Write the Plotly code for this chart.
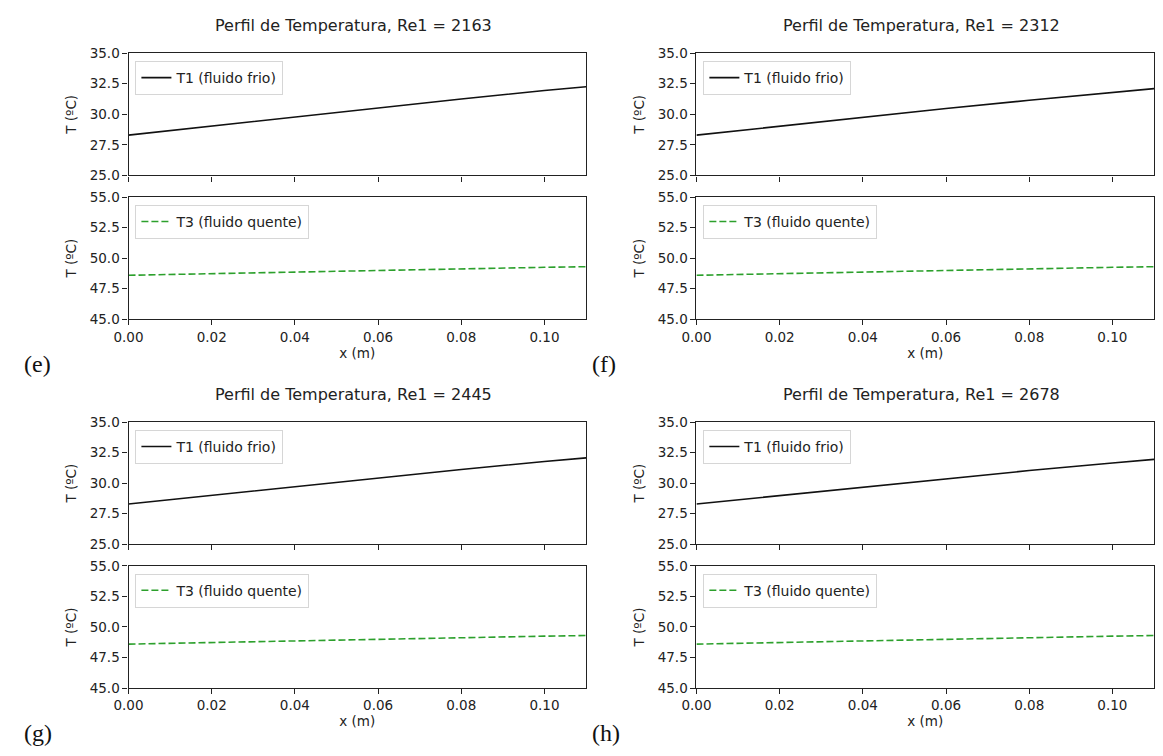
import plotly.graph_objects as go

# The page body has an 8px default margin, so the figure is made 16px smaller
# and all page-pixel positions are shifted by OFF.
PAGE_W, PAGE_H = 1163, 756
OFF = 8
W, H = PAGE_W - 2 * OFF, PAGE_H - 2 * OFF

x_pos = [0.0, 0.02, 0.04, 0.06, 0.08, 0.10, 0.11]
re_values = [2163, 2312, 2445, 2678]
panel_labels = ["(e)", "(f)", "(g)", "(h)"]
t1_e = [28.3, 29.05, 29.80, 30.55, 31.25, 31.95, 32.25]
t1_f = [28.3, 29.03, 29.75, 30.47, 31.15, 31.80, 32.10]
t1_g = [28.3, 29.02, 29.73, 30.43, 31.12, 31.77, 32.07]
t1_h = [28.3, 28.98, 29.68, 30.36, 31.03, 31.65, 31.95]
t3_e = [48.6, 48.74, 48.88, 49.01, 49.13, 49.25, 49.30]
t3_f = [48.6, 48.74, 48.88, 49.01, 49.13, 49.25, 49.30]
t3_g = [48.6, 48.74, 48.88, 49.01, 49.13, 49.25, 49.30]
t3_h = [48.6, 48.74, 48.88, 49.01, 49.13, 49.25, 49.30]
t1_series = [t1_e, t1_f, t1_g, t1_h]
t3_series = [t3_e, t3_f, t3_g, t3_h]
y1_ticks = [25.0, 27.5, 30.0, 32.5, 35.0]
y3_ticks = [45.0, 47.5, 50.0, 52.5, 55.0]
x_ticks = [0.00, 0.02, 0.04, 0.06, 0.08, 0.10]

# page-pixel layout
cols_px = [(115, 579), (691, 1155)]
rows_px = [((46, 171), (193, 318)), ((423, 548), (570, 695))]


def px_x(p):
    return (p - OFF) / W


def px_y(p):
    return 1 - (p - OFF) / H


fig = go.Figure()
font_main = "DejaVu Sans, Arial, sans-serif"
txt = "#222222"
FS = 13.5

axis_common = dict(
    showline=True, linecolor="#222222", linewidth=1.1, mirror=True,
    ticks="outside", ticklen=5, tickwidth=1.1, tickcolor="#222222",
    showgrid=False, zeroline=False,
    tickfont=dict(family=font_main, size=FS, color=txt),
)

ann = []
for i in range(4):
    r, c = divmod(i, 2)
    (x0, x1) = cols_px[c]
    (top, bottom) = rows_px[r]
    for j, (yp, series, name, color, dash, yt, rng) in enumerate([
        (top, t1_series[i], "T1 (fluido frio)", "#111111", "solid", y1_ticks, [25, 35]),
        (bottom, t3_series[i], "T3 (fluido quente)", "#2ca02c", "dash", y3_ticks, [45, 55]),
    ]):
        k = i * 2 + j + 1
        xa = "xaxis" if k == 1 else f"xaxis{k}"
        ya = "yaxis" if k == 1 else f"yaxis{k}"
        xr = "x" if k == 1 else f"x{k}"
        yr = "y" if k == 1 else f"y{k}"
        lg = "legend" if k == 1 else f"legend{k}"
        fig.add_trace(go.Scatter(
            x=x_pos, y=series, mode="lines", name=name,
            line=dict(color=color, width=1.6, dash="7px,3px" if dash == "dash" else "solid"),
            xaxis=xr, yaxis=yr, legend=lg, showlegend=True,
        ))
        fig.layout[xa] = dict(
            domain=[px_x(x0), px_x(x1)], anchor=yr, range=[0, 0.11],
            tickvals=x_ticks, tickformat=".2f",
            showticklabels=(j == 1),
            title=dict(text="x (m)" if j == 1 else "",
                       font=dict(family=font_main, size=FS, color=txt), standoff=4),
            **axis_common,
        )
        fig.layout[ya] = dict(
            domain=[px_y(yp[1]), px_y(yp[0])], anchor=xr, range=rng,
            tickvals=yt, tickformat=".1f",
            title=dict(text="T (ºC)", font=dict(family=font_main, size=FS, color=txt), standoff=9),
            **axis_common,
        )
        fig.layout[lg] = dict(
            x=px_x(x0 + 7), y=px_y(yp[0] + 8), xanchor="left", yanchor="top",
            xref="paper", yref="paper",
            bgcolor="rgba(255,255,255,0.85)", bordercolor="#d6d6d6", borderwidth=1,
            font=dict(family=font_main, size=14, color=txt),
            itemwidth=30, tracegroupgap=0,
        )
    ann.append(dict(
        text=f"Perfil de Temperatura, Re1 = {re_values[i]}",
        x=px_x((x0 + x1) / 2 - 4), y=px_y(top[0] - 28), xref="paper", yref="paper",
        xanchor="center", yanchor="middle", showarrow=False,
        font=dict(family=font_main, size=16, color=txt),
    ))
    ann.append(dict(
        text=panel_labels[i],
        x=px_x(x0 - 108), y=px_y(bottom[1] + 46), xref="paper", yref="paper",
        xanchor="left", yanchor="middle", showarrow=False,
        font=dict(family="Liberation Serif, Times New Roman, serif", size=24, color="#111111"),
    ))

fig.update_layout(
    width=W, height=H, margin=dict(l=0, r=0, t=0, b=0),
    paper_bgcolor="white", plot_bgcolor="white",
    annotations=ann,
)

fig.write_html("out.html")
